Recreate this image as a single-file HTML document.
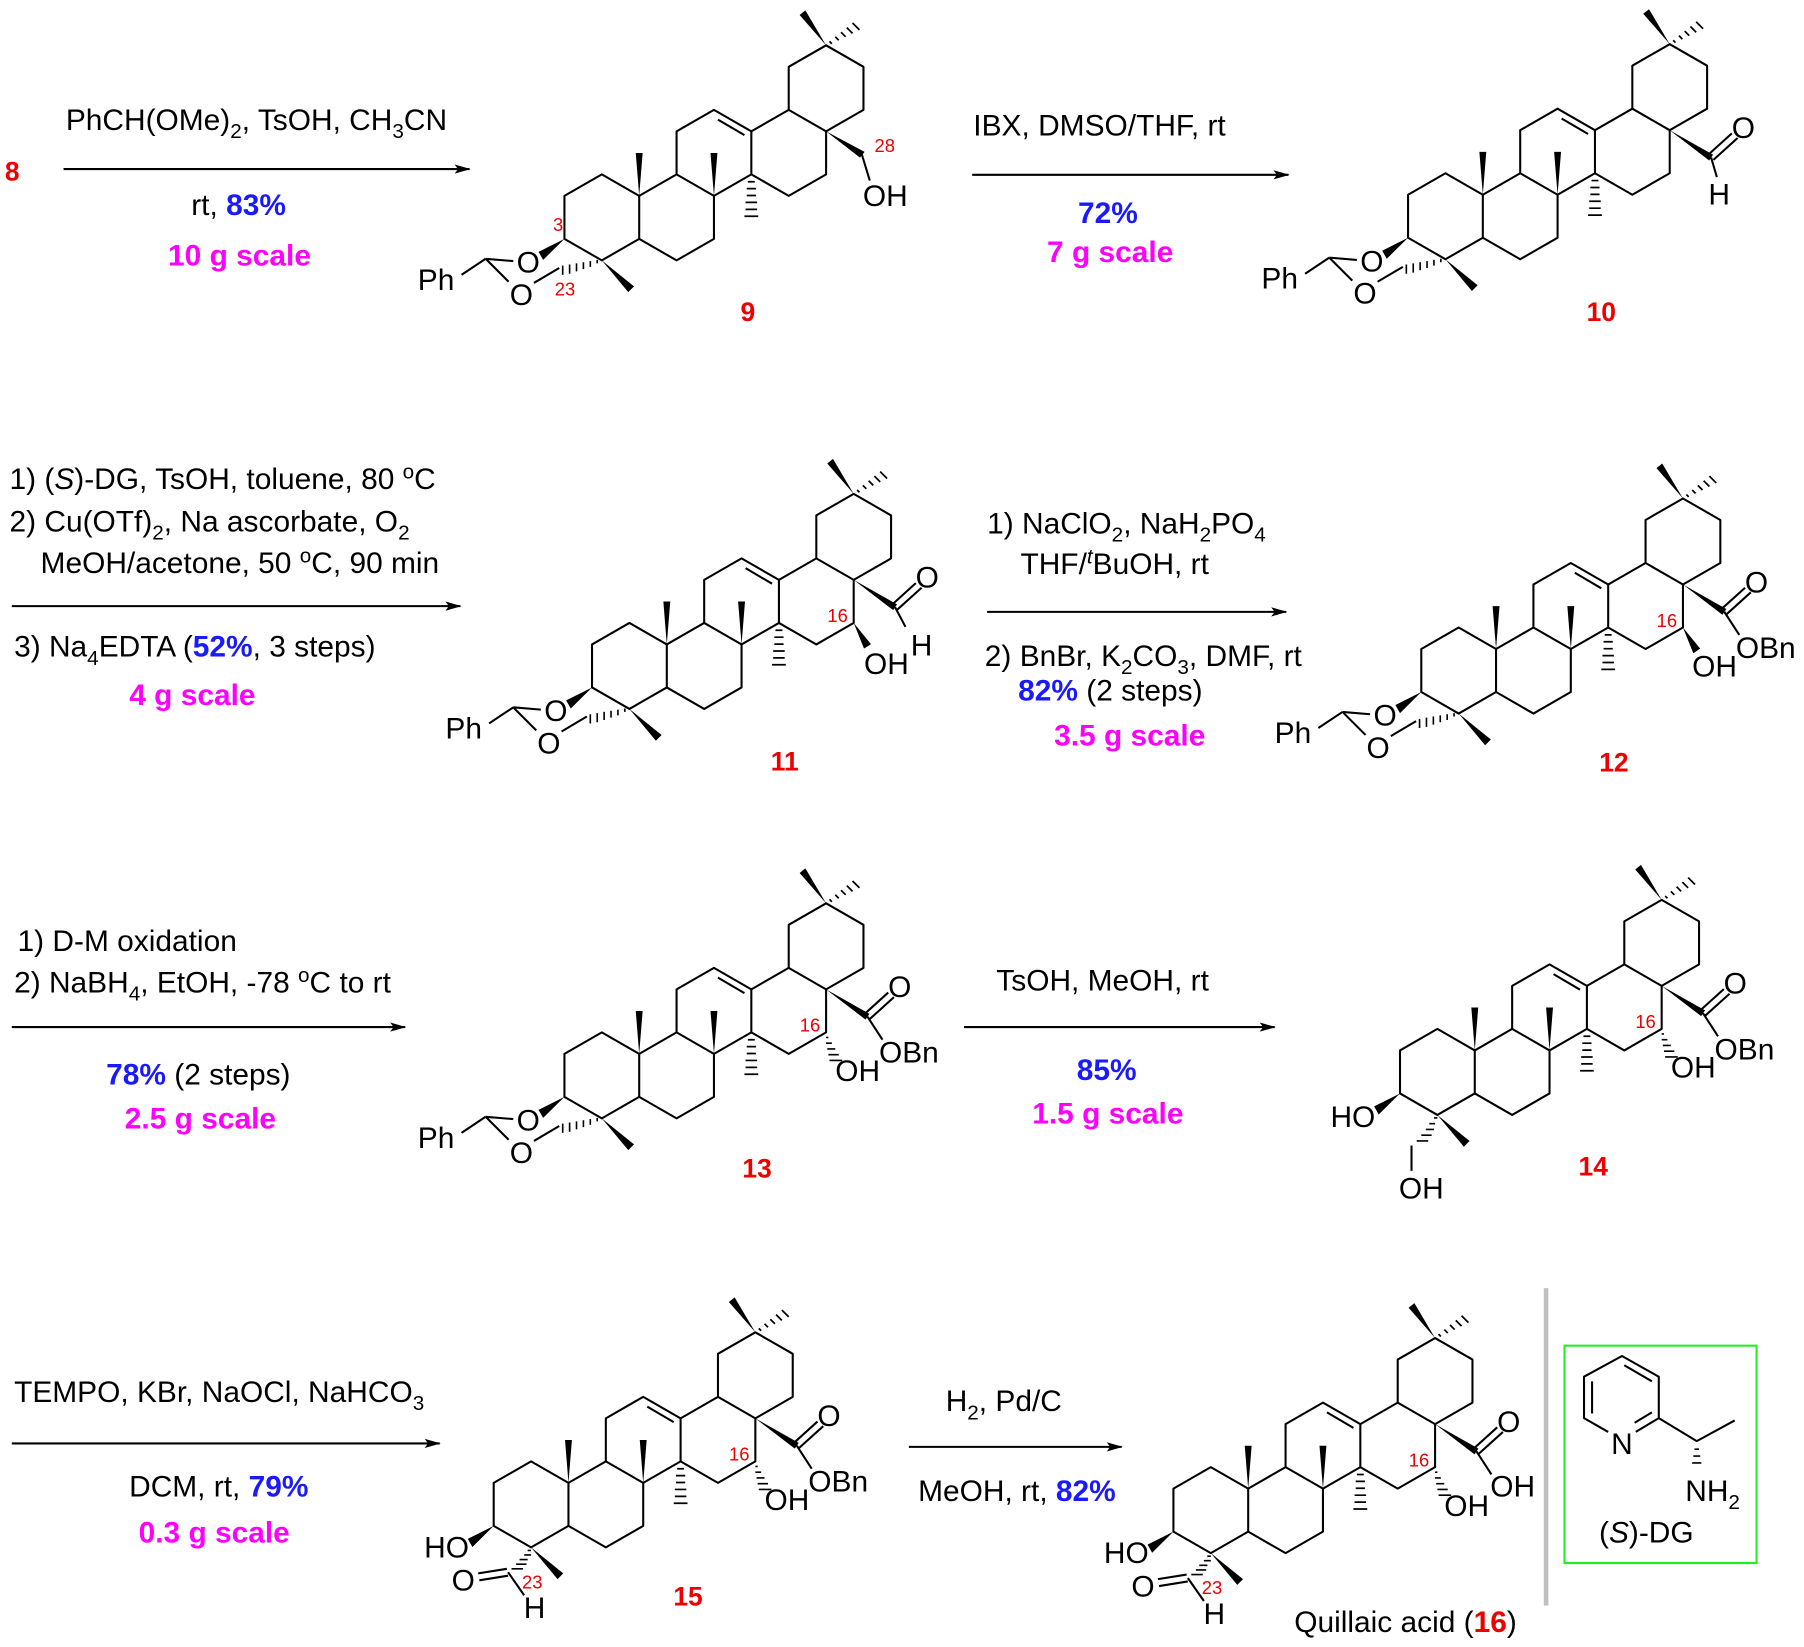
<!DOCTYPE html>
<html><head><meta charset="utf-8"><style>html,body{margin:0;padding:0;background:#fff}svg{display:block}</style></head>
<body>
<svg xmlns="http://www.w3.org/2000/svg" width="1804" height="1647" viewBox="0 0 1568 1432" font-family="Liberation Sans, Arial, sans-serif">
<defs>
<marker id="ah" markerWidth="14" markerHeight="10" refX="13" refY="5" orient="auto" markerUnits="userSpaceOnUse"><path d="M0,1 L14,5 L0,9 L3,5 z" fill="#000"/></marker>
<g id="sk" stroke="#000" stroke-width="1.8" fill="none" stroke-linejoin="round">
<path d="M0,-37.4 L32.5,-18.7 L32.5,18.7 L0,37.4 L-32.5,18.7 L-32.5,-18.7 Z"/>
<path d="M32.5,-18.7 L65,-37.4 L97.5,-18.7 L97.5,18.7 L65,37.4 L32.5,18.7"/>
<path d="M65,-37.4 L65,-74.8 L97.5,-93.5 L130,-74.8 L130,-37.4 L97.5,-18.7"/>
<path d="M101,-85 L124,-71.5"/>
<path d="M130,-74.8 L162.5,-93.5 L195,-74.8 L195,-37.4 L162.5,-18.7 L130,-37.4"/>
<path d="M162.5,-93.5 L162.5,-130.9 L195,-149.6 L227.5,-130.9 L227.5,-93.5 L195,-74.8"/>
<polygon points="32.5,-18.7 29.5,-56 35.5,-56" fill="#000" stroke="none"/>
<polygon points="97.5,-18.7 94.5,-56 100.5,-56" fill="#000" stroke="none"/>
<polygon points="0,37.4 23,65 28,60" fill="#000" stroke="none"/>
<polygon points="195,-149.6 172,-176 177,-180" fill="#000" stroke="none"/>
<polygon points="-32.5,18.7 -55,30 -51,37" fill="#000" stroke="none"/>
<path d="M127,-31 h6 M126,-25 h8 M126,-19 h8 M125,-13 h10 M125,-7 h10 M124,-1 h12" stroke-width="1.5"/>
<path d="M198,-153 l2,2 M203,-157 l3,3 M208,-161 l4,4 M213,-165 l5,5 M218,-169 l6,6" stroke-width="1.5"/>
</g>
<g id="acetal" stroke="#000" stroke-width="1.8" fill="none">
<path d="M-101,36 L-77,38 M-101,36 L-81,56 M-101,36 L-122,50 M-37,44 L-59,57"/>
<path d="M-4,37 v3 M-10,38 v5 M-16,39 v6 M-22,40 v7 M-28,41 v8 M-34,42 v8" stroke-width="1.4"/>
</g>
<g id="ald" stroke="#000" stroke-width="1.8" fill="none">
<path d="M-3,40 h3 M-6,44 h6 M-10,48 h7 M-13,52 h9 M-17,56 h10" stroke-width="1.4"/>
<path d="M-21,56 L-46,60 M-20,62 L-45,66 M-20,59 L-6,79"/>
</g>
<g id="c28w"><polygon points="195,-74.8 229.3,-48.5 232.7,-53.5" fill="#000"/>
<path d="M231,-51 L244,-31 M228,-53 L249,-72 M233,-49 L254,-68" stroke="#000" stroke-width="1.8" fill="none"/></g>
<g id="c16b"><polygon points="195,-37.4 204,-15 210,-19" fill="#000"/></g>
<g id="c16a" stroke="#000" stroke-width="1.4"><path d="M197,-33 h-2 M200,-28 h-5 M203,-23 h-7 M206,-18 h-9 M209,-13 h-11"/></g>
</defs>
<g fill="#000" font-size="26">
<!-- row 1 -->
<text x="4" y="157" fill="#e00" font-weight="bold" font-size="23">8</text>
<line x1="55" y1="147" x2="408" y2="147" stroke="#000" stroke-width="1.8" marker-end="url(#ah)"/>
<text x="57" y="113">PhCH(OMe)<tspan font-size="18" dy="7">2</tspan><tspan dy="-7">, TsOH, CH</tspan><tspan font-size="18" dy="7">3</tspan><tspan dy="-7">CN</tspan></text>
<text x="166" y="187">rt, <tspan fill="#1a1aff" font-weight="bold">83%</tspan></text>
<text x="208" y="231" text-anchor="middle" fill="#f0f" font-weight="bold">10 g scale</text>
<line x1="845" y1="152" x2="1120" y2="152" stroke="#000" stroke-width="1.8" marker-end="url(#ah)"/>
<text x="846" y="118">IBX, DMSO/THF, rt</text>
<text x="963" y="194" text-anchor="middle" fill="#1a1aff" font-weight="bold">72%</text>
<text x="965" y="228" text-anchor="middle" fill="#f0f" font-weight="bold">7 g scale</text>

<g transform="translate(523,189)">
<use href="#sk"/><use href="#acetal"/>
<polygon points="195,-74.8 224.5,-52 228.5,-57" fill="#000"/>
<path d="M226,-55 L233,-32" stroke="#000" stroke-width="1.8" fill="none"/>
<text x="-64" y="48" text-anchor="middle">O</text><text x="-70" y="76" text-anchor="middle">O</text>
<text x="-160" y="63">Ph</text>
<text x="227" y="-10">OH</text>
<text x="-38" y="12" fill="#e00" font-size="16" text-anchor="middle">3</text>
<text x="-32" y="68" fill="#e00" font-size="16" text-anchor="middle">23</text>
<text x="246" y="-57" fill="#e00" font-size="16" text-anchor="middle">28</text>
</g>
<text x="650" y="279" fill="#e00" font-weight="bold" font-size="23" text-anchor="middle">9</text>

<g transform="translate(1256.5,188)">
<use href="#sk"/><use href="#acetal"/>
<polygon points="195,-74.8 229.3,-48.5 232.7,-53.5" fill="#000"/>
<path d="M231,-51 L236,-34 M228,-53 L249,-72 M233,-49 L254,-68" stroke="#000" stroke-width="1.8" fill="none"/>
<text x="-64" y="48" text-anchor="middle">O</text><text x="-70" y="76" text-anchor="middle">O</text>
<text x="-160" y="63">Ph</text>
<text x="259" y="-68" text-anchor="middle">O</text>
<text x="238" y="-10" text-anchor="middle">H</text>
</g>
<text x="1392" y="279" fill="#e00" font-weight="bold" font-size="23" text-anchor="middle">10</text>

<!-- row 2 -->
<text x="8" y="425">1) (<tspan font-style="italic">S</tspan>)-DG, TsOH, toluene, 80 <tspan font-size="18" dy="-9">o</tspan><tspan dy="9">C</tspan></text>
<text x="8" y="462">2) Cu(OTf)<tspan font-size="18" dy="7">2</tspan><tspan dy="-7">, Na ascorbate, O</tspan><tspan font-size="18" dy="7">2</tspan></text>
<text x="35" y="498">MeOH/acetone, 50 <tspan font-size="18" dy="-9">o</tspan><tspan dy="9">C, 90 min</tspan></text>
<line x1="10" y1="527" x2="400" y2="527" stroke="#000" stroke-width="1.8" marker-end="url(#ah)"/>
<text x="12" y="571">3) Na<tspan font-size="18" dy="7">4</tspan><tspan dy="-7">EDTA (</tspan><tspan fill="#1a1aff" font-weight="bold">52%</tspan>, 3 steps)</text>
<text x="167" y="613" text-anchor="middle" fill="#f0f" font-weight="bold">4 g scale</text>
<text x="858" y="464">1) NaClO<tspan font-size="18" dy="7">2</tspan><tspan dy="-7">, NaH</tspan><tspan font-size="18" dy="7">2</tspan><tspan dy="-7">PO</tspan><tspan font-size="18" dy="7">4</tspan></text>
<text x="887" y="499">THF/<tspan font-size="18" dy="-9" font-style="italic">t</tspan><tspan dy="9">BuOH, rt</tspan></text>
<line x1="858" y1="532" x2="1118" y2="532" stroke="#000" stroke-width="1.8" marker-end="url(#ah)"/>
<text x="856" y="579">2) BnBr, K<tspan font-size="18" dy="7">2</tspan><tspan dy="-7">CO</tspan><tspan font-size="18" dy="7">3</tspan><tspan dy="-7">, DMF, rt</tspan></text>
<text x="885" y="609"><tspan fill="#1a1aff" font-weight="bold">82%</tspan> (2 steps)</text>
<text x="982" y="648" text-anchor="middle" fill="#f0f" font-weight="bold">3.5 g scale</text>

<g transform="translate(547,579)">
<use href="#sk"/><use href="#acetal"/><use href="#c16b"/>
<polygon points="195,-74.8 229.3,-48.5 232.7,-53.5" fill="#000"/>
<path d="M231,-51 L240,-34 M228,-53 L249,-72 M233,-49 L254,-68" stroke="#000" stroke-width="1.8" fill="none"/>
<text x="-64" y="48" text-anchor="middle">O</text><text x="-70" y="76" text-anchor="middle">O</text>
<text x="-160" y="63">Ph</text>
<text x="259" y="-68" text-anchor="middle">O</text>
<text x="204" y="7">OH</text><text x="254" y="-9" text-anchor="middle">H</text>
<text x="181" y="-38" fill="#e00" font-size="16" text-anchor="middle">16</text>
</g>
<text x="682" y="670" fill="#e00" font-weight="bold" font-size="23" text-anchor="middle">11</text>

<g transform="translate(1268,583)">
<use href="#sk"/><use href="#acetal"/><use href="#c16b"/><use href="#c28w"/>
<text x="-64" y="48" text-anchor="middle">O</text><text x="-70" y="76" text-anchor="middle">O</text>
<text x="-160" y="63">Ph</text>
<text x="259" y="-68" text-anchor="middle">O</text>
<text x="203" y="5">OH</text><text x="241" y="-11">OBn</text>
<text x="181" y="-38" fill="#e00" font-size="16" text-anchor="middle">16</text>
</g>
<text x="1403" y="671" fill="#e00" font-weight="bold" font-size="23" text-anchor="middle">12</text>

<!-- row 3 -->
<text x="15" y="827">1) D-M oxidation</text>
<text x="12" y="863">2) NaBH<tspan font-size="18" dy="7">4</tspan><tspan dy="-7">, EtOH, -78 </tspan><tspan font-size="18" dy="-9">o</tspan><tspan dy="9">C to rt</tspan></text>
<line x1="10" y1="893" x2="352" y2="893" stroke="#000" stroke-width="1.8" marker-end="url(#ah)"/>
<text x="92" y="943"><tspan fill="#1a1aff" font-weight="bold">78%</tspan> (2 steps)</text>
<text x="174" y="981" text-anchor="middle" fill="#f0f" font-weight="bold">2.5 g scale</text>
<line x1="838" y1="893" x2="1108" y2="893" stroke="#000" stroke-width="1.8" marker-end="url(#ah)"/>
<text x="866" y="861">TsOH, MeOH, rt</text>
<text x="962" y="939" text-anchor="middle" fill="#1a1aff" font-weight="bold">85%</text>
<text x="963" y="977" text-anchor="middle" fill="#f0f" font-weight="bold">1.5 g scale</text>

<g transform="translate(523,935)">
<use href="#sk"/><use href="#acetal"/><use href="#c16a"/><use href="#c28w"/>
<text x="-64" y="48" text-anchor="middle">O</text><text x="-70" y="76" text-anchor="middle">O</text>
<text x="-160" y="63">Ph</text>
<text x="259" y="-68" text-anchor="middle">O</text>
<text x="203" y="5">OH</text><text x="241" y="-11">OBn</text>
<text x="181" y="-38" fill="#e00" font-size="16" text-anchor="middle">16</text>
</g>
<text x="658" y="1024" fill="#e00" font-weight="bold" font-size="23" text-anchor="middle">13</text>

<g transform="translate(1249.5,932)">
<use href="#sk"/><use href="#c16a"/><use href="#c28w"/>
<path d="M-3,40 h3 M-7,45 h5 M-10,50 h7 M-14,55 h9 M-18,60 h10" stroke="#000" stroke-width="1.4"/>
<path d="M-22.5,64 L-22.5,86" stroke="#000" stroke-width="1.8"/>
<text x="-54" y="48" text-anchor="end">HO</text>
<text x="-14" y="110" text-anchor="middle">OH</text>
<text x="259" y="-68" text-anchor="middle">O</text>
<text x="203" y="5">OH</text><text x="241" y="-11">OBn</text>
<text x="181" y="-38" fill="#e00" font-size="16" text-anchor="middle">16</text>
</g>
<text x="1385" y="1022" fill="#e00" font-weight="bold" font-size="23" text-anchor="middle">14</text>

<!-- row 4 -->
<text x="12" y="1219">TEMPO, KBr, NaOCl, NaHCO<tspan font-size="18" dy="7">3</tspan></text>
<line x1="10" y1="1255" x2="382" y2="1255" stroke="#000" stroke-width="1.8" marker-end="url(#ah)"/>
<text x="112" y="1301">DCM, rt, <tspan fill="#1a1aff" font-weight="bold">79%</tspan></text>
<text x="186" y="1341" text-anchor="middle" fill="#f0f" font-weight="bold">0.3 g scale</text>
<text x="822" y="1227">H<tspan font-size="18" dy="7">2</tspan><tspan dy="-7">, Pd/C</tspan></text>
<line x1="790" y1="1258" x2="975" y2="1258" stroke="#000" stroke-width="1.8" marker-end="url(#ah)"/>
<text x="798" y="1305">MeOH, rt, <tspan fill="#1a1aff" font-weight="bold">82%</tspan></text>

<g transform="translate(461.5,1308)">
<use href="#sk"/><use href="#ald"/><use href="#c16a"/><use href="#c28w"/>
<text x="-54" y="46" text-anchor="end">HO</text>
<text x="-59" y="75" text-anchor="middle">O</text><text x="3" y="99" text-anchor="middle">H</text>
<text x="1" y="73" fill="#e00" font-size="16" text-anchor="middle">23</text>
<text x="259" y="-68" text-anchor="middle">O</text>
<text x="203" y="5">OH</text><text x="241" y="-11">OBn</text>
<text x="181" y="-38" fill="#e00" font-size="16" text-anchor="middle">16</text>
</g>
<text x="598" y="1396" fill="#e00" font-weight="bold" font-size="23" text-anchor="middle">15</text>

<g transform="translate(1052.5,1313)">
<use href="#sk"/><use href="#ald"/><use href="#c16a"/><use href="#c28w"/>
<text x="-54" y="46" text-anchor="end">HO</text>
<text x="-59" y="75" text-anchor="middle">O</text><text x="3" y="99" text-anchor="middle">H</text>
<text x="1" y="73" fill="#e00" font-size="16" text-anchor="middle">23</text>
<text x="259" y="-68" text-anchor="middle">O</text>
<text x="203" y="5">OH</text><text x="243" y="-12">OH</text>
<text x="181" y="-38" fill="#e00" font-size="16" text-anchor="middle">16</text>
</g>
<text x="1125" y="1419">Quillaic acid (<tspan fill="#e00" font-weight="bold">16</tspan>)</text>

<!-- separator and DG box -->
<rect x="1342" y="1120" width="4" height="276" fill="#c0c0c0"/>
<rect x="1360" y="1170" width="167" height="189" fill="none" stroke="#22ee22" stroke-width="1.8"/>
<g stroke="#000" stroke-width="1.8" fill="none" stroke-linejoin="round">
<path d="M1398,1245 L1377,1233 L1377,1197 L1410,1179 L1442,1197 L1442,1233 L1422,1245"/>
<path d="M1412,1187 L1436,1201 M1384,1201 L1384,1229 M1421,1237 L1436,1228"/>
<path d="M1442,1233 L1475,1253 L1508,1235"/>
<path d="M1473,1260 h4 M1472,1266 h6 M1471,1272 h8" stroke-width="1.4"/>
</g>
<text x="1410" y="1264" text-anchor="middle">N</text>
<text x="1465" y="1305">NH<tspan font-size="18" dy="7">2</tspan></text>
<text x="1390" y="1341">(<tspan font-style="italic">S</tspan>)-DG</text>
</g>
</svg>
</body></html>
